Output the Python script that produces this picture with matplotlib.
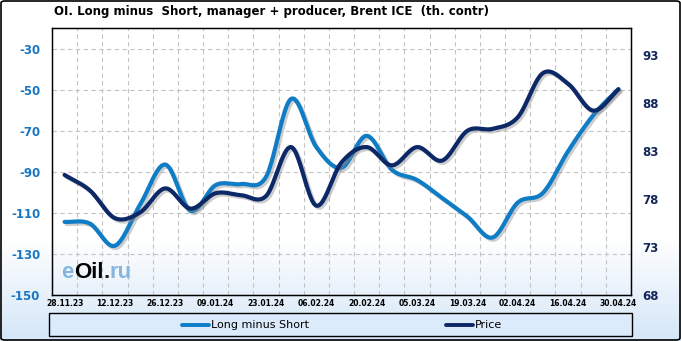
import numpy as np
import matplotlib
matplotlib.use("Agg")
import matplotlib.pyplot as plt
from matplotlib import patheffects as pe
from matplotlib.patches import Rectangle, FancyBboxPatch
from matplotlib.lines import Line2D

# ---------------- data ----------------
dates = ["28.11.23", "05.12.23", "12.12.23", "19.12.23", "26.12.23", "02.01.24",
         "09.01.24", "16.01.24", "23.01.24", "30.01.24", "06.02.24", "13.02.24",
         "20.02.24", "27.02.24", "05.03.24", "12.03.24", "19.03.24", "26.03.24",
         "02.04.24", "09.04.24", "16.04.24", "23.04.24", "30.04.24"]
long_minus_short = [-114.4, -115.2, -126.0, -106.0, -86.5, -109.0, -96.5, -96.0,
                    -92.5, -54.5, -78.0, -88.0, -72.5, -89.0, -94.0, -102.8,
                    -111.8, -122.0, -105.0, -100.3, -80.0, -62.5, -49.7]
price = [80.5, 78.9, 76.0, 76.6, 79.1, 77.0, 78.6, 78.4, 78.3, 83.4, 77.3, 81.8,
         83.4, 81.5, 83.4, 82.0, 85.1, 85.3, 86.5, 91.1, 90.0, 87.2, 89.4]
left_ticks = [-150, -130, -110, -90, -70, -50, -30]
right_ticks = [68, 73, 78, 83, 88, 93]
title = "OI. Long minus  Short, manager + producer, Brent ICE  (th. contr)"
series_names = ["Long minus Short", "Price"]

LIGHT = "#0f7cc6"
DARK = "#0c2866"

W, H = 681, 341


def catmull(ys, n=24):
    xs = np.arange(len(ys), dtype=float)
    pts = np.column_stack([xs, np.asarray(ys, float)])
    P = np.vstack([2 * pts[0] - pts[1], pts, 2 * pts[-1] - pts[-2]])
    out = []
    t = np.linspace(0, 1, n, endpoint=False)[:, None]
    for i in range(1, len(P) - 2):
        p0, p1, p2, p3 = P[i - 1], P[i], P[i + 1], P[i + 2]
        seg = 0.5 * ((2 * p1) + (-p0 + p2) * t + (2 * p0 - 5 * p1 + 4 * p2 - p3) * t ** 2
                     + (-p0 + 3 * p1 - 3 * p2 + p3) * t ** 3)
        out.append(seg)
    out.append(pts[-1:])
    a = np.vstack(out)
    return a[:, 0], a[:, 1]


fig = plt.figure(figsize=(W / 100, H / 100), dpi=100)

# background gradient
bg = fig.add_axes([0, 0, 1, 1], zorder=-10)
rows = np.arange(H)
frac = np.clip((rows - 238) / (H - 238), 0, 1)
top = np.array([1.0, 1.0, 1.0])
bot = np.array([0xd4, 0xe6, 0xf8]) / 255
img = top[None, :] * (1 - frac[:, None]) + bot[None, :] * frac[:, None]
img = np.repeat(img[:, None, :], 4, axis=1)
bg.imshow(img, aspect="auto", extent=[0, 1, 0, 1], origin="upper")
bg.set_xlim(0, 1); bg.set_ylim(0, 1)
bg.axis("off")

# outer border
fig.patches.append(FancyBboxPatch((1 / W, 1 / H), 1 - 2 / W, 1 - 2 / H,
                                  boxstyle="round,pad=0,rounding_size=0.006",
                                  transform=fig.transFigure, fill=False,
                                  edgecolor="black", lw=1.2))

ax = fig.add_axes([52 / W, 1 - 295 / H, 579 / W, 267 / H])
ax.patch.set_alpha(0)
ax.set_xlim(-0.5, 22.5)
ax.set_ylim(-150, -20)
ax.set_yticks(left_ticks)
ax.set_yticklabels([str(v) for v in left_ticks])
ax.set_xticks(np.arange(0, len(dates), 2))
ax.set_xticklabels(dates[::2])
ax.set_xticks(np.arange(0.5, len(dates) - 1, 1), minor=True)
ax.tick_params(axis="y", length=0, pad=8.5, labelcolor="#1a76c2", labelsize=8.5)
ax.tick_params(axis="x", which="both", length=0, pad=3, labelsize=5.5)
for lab in ax.get_yticklabels() + ax.get_xticklabels():
    lab.set_fontweight("bold")
ax.yaxis.grid(True, ls=(0, (4, 3)), color="#c4c4c4", lw=0.8)
ax.xaxis.grid(True, which="minor", ls=(0, (4, 3)), color="#c4c4c4", lw=0.8)
ax.xaxis.grid(False, which="major")
for s in ax.spines.values():
    s.set_linewidth(1.0)
    s.set_color("black")

ax2 = ax.twinx()
ax2.set_ylim(68, 95.8)
ax2.set_yticks(right_ticks)
ax2.set_yticklabels([str(v) for v in right_ticks])
ax2.tick_params(axis="y", length=0, pad=8, labelcolor="#14275c", labelsize=8.5)
for lab in ax2.get_yticklabels():
    lab.set_fontweight("bold")

shadow = [pe.SimpleLineShadow(offset=(1.5, -1.5), shadow_color="#8a8a8a", alpha=0.42),
          pe.Normal()]
sx, sy = catmull(long_minus_short)
ax.plot(sx, sy, color=LIGHT, lw=3.0, solid_capstyle="round", path_effects=shadow)
px, py = catmull(price)
ax2.plot(px, py, color=DARK, lw=3.0, solid_capstyle="round", path_effects=shadow)

# logo
lfs = 16
t1 = ax.text(0.016, 0.045, "e", transform=ax.transAxes, fontsize=lfs, fontweight="bold",
             color="#86b6df", family="Liberation Sans", va="bottom", ha="left")
t2 = ax.annotate("Oil", xy=(1, 0), xycoords=t1, fontsize=lfs, fontweight="bold",
                 color="black", family="Liberation Sans", va="bottom", ha="left")
t3 = ax.annotate(".", xy=(1, 0), xycoords=t2, fontsize=lfs, fontweight="bold",
                 color="#222222", family="Liberation Sans", va="bottom", ha="left")
t4 = ax.annotate("ru", xy=(1, 0), xycoords=t3, fontsize=lfs, fontweight="bold",
                 color="#86b6df", family="Liberation Sans", va="bottom", ha="left")

# title
fig.text(54 / W, 1 - 12 / H, title, fontsize=8.5, fontweight="bold", va="center", ha="left")

# legend box
fig.patches.append(Rectangle((49 / W, 1 - 336 / H), 583 / W, 23 / H, transform=fig.transFigure,
                             facecolor="#dcebfb", edgecolor="black", lw=1.0))
ly = 1 - 324.5 / H
fig.lines.append(Line2D([182 / W, 209 / W], [ly, ly], transform=fig.transFigure,
                        color=LIGHT, lw=2.8, solid_capstyle="round"))
fig.text(211 / W, ly, series_names[0], fontsize=8, va="center", ha="left")
fig.lines.append(Line2D([446 / W, 473 / W], [ly, ly], transform=fig.transFigure,
                        color=DARK, lw=2.8, solid_capstyle="round"))
fig.text(475 / W, ly, series_names[1], fontsize=8, va="center", ha="left")

fig.savefig("out.png", dpi=100)
